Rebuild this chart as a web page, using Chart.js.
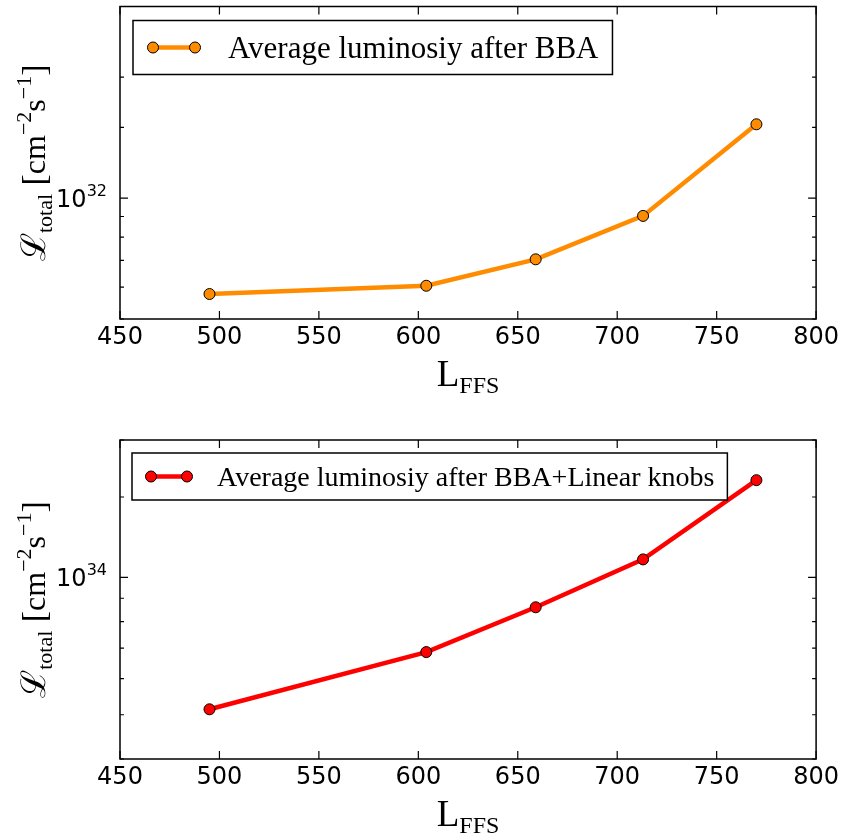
<!DOCTYPE html>
<html lang="en">
<head>
<meta charset="UTF-8">
<title>Luminosity vs L_FFS</title>
<script src="https://cdn.jsdelivr.net/npm/chart.js"></script>
<style>
    body { margin: 0; background: #fff; }
    .panel { position: absolute; left: 0; width: 843px; height: 417px; }
</style>
</head>
<body>
<div class="panel" style="top:0"><canvas id="topChart"></canvas></div>
<div class="panel" style="top:417px"><canvas id="bottomChart"></canvas></div>
<script>
// data
const lFFS = [495, 604, 659, 713, 770];
const lumBBA = [5.77e31, 6.05e31, 7.04e31, 9.03e31, 1.527e32];
const lumKnobs = [5.14e33, 6.86e33, 8.60e33, 1.095e34, 1.633e34];
const labelBBA = 'Average luminosiy after BBA';
const labelKnobs = 'Average luminosiy after BBA+Linear knobs';
const xRange = [450, 800];
const yRangeTop = [5e31, 3e32];
const yRangeBottom = [4e33, 2e34];

Chart.defaults.animation = false;

const SERIF = "'Liberation Serif', 'DejaVu Serif', serif";

function drawRich(ctx, parts, x, y) {
    parts.forEach(p => {
        ctx.font = p.font;
        ctx.fillText(p.t, x, y + (p.dy || 0));
        x += ctx.measureText(p.t).width;
    });
}
function richWidth(ctx, parts) {
    let w = 0;
    parts.forEach(p => { ctx.font = p.font; w += ctx.measureText(p.t).width; });
    return w;
}
function isDecade(v) {
    const l = Math.log10(v);
    return Math.abs(l - Math.round(l)) < 1e-6;
}

const ylabelParts = [
    { t: 'ℒ', font: "34px 'DejaVu Serif'" },
    { t: 'total', font: '22px ' + SERIF, dy: 7 },
    { t: ' [', font: '34px ' + SERIF },
    { t: 'cm', font: '32px ' + SERIF },
    { t: '−2', font: '22px ' + SERIF, dy: -14 },
    { t: 's', font: '32px ' + SERIF },
    { t: '−1', font: '22px ' + SERIF, dy: -14 },
    { t: ']', font: '34px ' + SERIF }
];
const xlabelParts = [
    { t: 'L', font: '37px ' + SERIF },
    { t: 'FFS', font: '24px ' + SERIF, dy: 7 }
];

const framePlugin = {
    id: 'frame',
    afterDraw(chart, args, opts) {
        const { ctx, chartArea: a, scales: { x, y } } = chart;
        ctx.save();
        ctx.strokeStyle = '#000';
        ctx.fillStyle = '#000';

        // inward ticks on all four sides
        ctx.lineWidth = 1.2;
        ctx.beginPath();
        x.ticks.forEach(t => {
            const px = x.getPixelForValue(t.value);
            ctx.moveTo(px, a.bottom); ctx.lineTo(px, a.bottom - 8);
            ctx.moveTo(px, a.top); ctx.lineTo(px, a.top + 8);
        });
        y.ticks.forEach(t => {
            const py = y.getPixelForValue(t.value);
            const len = isDecade(t.value) ? 8 : 4;
            ctx.moveTo(a.left, py); ctx.lineTo(a.left + len, py);
            ctx.moveTo(a.right, py); ctx.lineTo(a.right - len, py);
        });
        ctx.stroke();

        ctx.lineWidth = 1.5;
        ctx.strokeRect(a.left, a.top, a.right - a.left, a.bottom - a.top);

        // decade labels 10^n
        ctx.textAlign = 'left';
        ctx.textBaseline = 'alphabetic';
        y.ticks.filter(t => isDecade(t.value)).forEach(t => {
            const py = y.getPixelForValue(t.value);
            const parts = [
                { t: '10', font: "24px 'DejaVu Sans'" },
                { t: String(Math.round(Math.log10(t.value))), font: "16px 'DejaVu Sans'", dy: -11 }
            ];
            drawRich(ctx, parts, a.left - 13 - richWidth(ctx, parts), py + 9);
        });

        // x title
        const xw = richWidth(ctx, xlabelParts);
        drawRich(ctx, xlabelParts, (a.left + a.right) / 2 - xw / 2, a.bottom + 67);

        // y title (rotated)
        ctx.save();
        ctx.translate(45, (a.top + a.bottom) / 2);
        ctx.rotate(-Math.PI / 2);
        const yw = richWidth(ctx, ylabelParts);
        drawRich(ctx, ylabelParts, -yw / 2, 0);
        ctx.restore();

        // legend box
        const L = opts.legend;
        const ds = chart.data.datasets[0];
        ctx.font = L.size + 'px ' + SERIF;
        const tw = ctx.measureText(ds.label).width;
        const bx = a.left + L.dx, by = a.top + L.dy;
        const bw = L.textX + tw + L.pad - bx;
        ctx.fillStyle = '#fff';
        ctx.fillRect(bx, by, bw, L.h);
        ctx.lineWidth = 1.5;
        ctx.strokeRect(bx, by, bw, L.h);
        const cy = by + L.h / 2;
        ctx.strokeStyle = ds.borderColor;
        ctx.lineWidth = ds.borderWidth;
        ctx.beginPath();
        ctx.moveTo(L.x1, cy); ctx.lineTo(L.x2, cy);
        ctx.stroke();
        [L.x1, L.x2].forEach(px => {
            ctx.beginPath();
            ctx.arc(px, cy, ds.pointRadius, 0, Math.PI * 2);
            ctx.fillStyle = ds.pointBackgroundColor;
            ctx.fill();
            ctx.lineWidth = 1;
            ctx.strokeStyle = '#000';
            ctx.stroke();
        });
        ctx.fillStyle = '#000';
        ctx.textBaseline = 'middle';
        ctx.fillText(ds.label, L.textX, cy + 2);
        ctx.restore();
    }
};

function makeChart(id, values, label, color, yRange, padTop, xAxisHeight, legend) {
    return new Chart(document.getElementById(id), {
        type: 'line',
        data: {
            datasets: [{
                label: label,
                data: lFFS.map((v, i) => ({ x: v, y: values[i] })),
                borderColor: color,
                borderWidth: 4.5,
                pointRadius: 5.5,
                pointBackgroundColor: color,
                pointBorderColor: '#000',
                pointBorderWidth: 1,
                tension: 0,
                clip: false
            }]
        },
        options: {
            responsive: true,
            maintainAspectRatio: false,
            devicePixelRatio: 1,
            layout: { padding: { top: padTop, left: 0, right: 26, bottom: 0 } },
            plugins: {
                legend: { display: false },
                tooltip: { enabled: false },
                frame: { legend: legend }
            },
            scales: {
                x: {
                    type: 'linear',
                    min: xRange[0], max: xRange[1],
                    ticks: {
                        stepSize: 50, autoSkip: false, maxRotation: 0,
                        color: '#000', padding: 4,
                        font: { family: 'DejaVu Sans', size: 24 }
                    },
                    grid: { display: false, drawTicks: false },
                    border: { display: false },
                    afterFit: s => { s.height = xAxisHeight; }
                },
                y: {
                    type: 'logarithmic',
                    min: yRange[0], max: yRange[1],
                    ticks: { display: false },
                    grid: { display: false, drawTicks: false },
                    border: { display: false },
                    afterFit: s => { s.width = 120; }
                }
            }
        },
        plugins: [framePlugin]
    });
}

makeChart('topChart', lumBBA, labelBBA, '#FF8C00', yRangeTop, 1, 98,
    { dx: 13, dy: 14, h: 54, size: 31, x1: 153, x2: 195, textX: 228, pad: 14 });
makeChart('bottomChart', lumKnobs, labelKnobs, '#FF0000', yRangeBottom, 23, 75,
    { dx: 12, dy: 13, h: 47, size: 28, x1: 151, x2: 187, textX: 217, pad: 13 });
</script>
</body>
</html>
